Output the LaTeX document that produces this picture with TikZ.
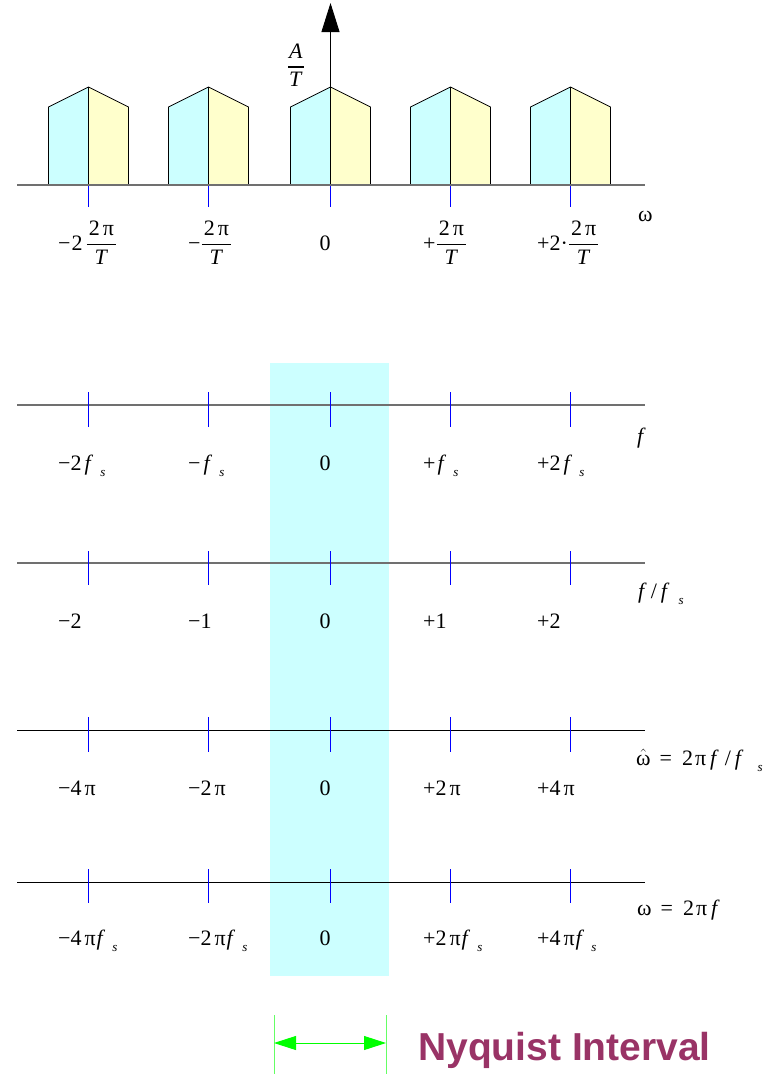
\documentclass[tikz,border=0pt]{standalone}
\usepackage{fontspec}
\setmainfont{Liberation Serif}
\newfontfamily\nyqfont{Liberation Sans}
\usetikzlibrary{arrows.meta}
\definecolor{cyanfill}{RGB}{204,255,255}
\definecolor{yellowfill}{RGB}{255,255,204}
\definecolor{nyqcolor}{RGB}{153,51,102}
\definecolor{axgray}{RGB}{112,112,112}
\definecolor{tickblue}{RGB}{0,0,255}
\definecolor{nyqgreen}{RGB}{0,255,0}
\definecolor{nyqline}{RGB}{100,255,100}
\newcommand\fsubk[1]{\textit{f}\kern#1\raisebox{-6pt}{\fontsize{13}{13}\selectfont\textit{s}}}
\newcommand\fsub{\fsubk{7pt}}
\newcommand\mfr[2]{${\displaystyle{\hbox{#1}\above 1.2pt\hbox{#2}}}$}
\newcommand\twopi{\kern2pt 2\kern3pt π\kern2pt}
\newcommand\omh{$\hat{\hbox{ω}}$}
\tikzset{
  lbl/.style={anchor=base west, inner sep=0pt, font=\fontsize{22}{26}\selectfont},
  zlbl/.style={anchor=base, inner sep=0pt, font=\fontsize{22}{26}\selectfont},
  axtick/.style={draw=tickblue, line width=1pt},
  grayaxis/.style={draw=axgray, line width=1.3pt},
  blackaxis/.style={draw=black, line width=1pt},
  blockline/.style={draw=black, line width=0.8pt},
}
\begin{document}
\begin{tikzpicture}[x=1pt,y=-1pt]
\useasboundingbox (0,0) rectangle (770,1074);
% Nyquist band
\fill[cyanfill] (270,363) rectangle (389,976);
% top spectrum blocks
\foreach \c in {88.5,208.5,330.5,450.5,570.5}{
  \fill[cyanfill] (\c-40,185) -- (\c-40,107) -- (\c,87) -- (\c,185) -- cycle;
  \fill[yellowfill] (\c,185) -- (\c,87) -- (\c+40,107) -- (\c+40,185) -- cycle;
  \draw[blockline] (\c-40,185) -- (\c-40,107) -- (\c,87) -- (\c+40,107) -- (\c+40,185);
  \draw[blockline] (\c,87) -- (\c,185);
}
\draw[grayaxis] (17,185) -- (645,185);
\foreach \c in {88.5,208.5,330.5,450.5,570.5}{ \draw[axtick] (\c,186) -- (\c,207); }
\coordinate (apex) at (330.5,87);
\coordinate (tip) at (330.5,3);
\draw[line width=0.9pt, -{Triangle[length=29pt,width=18pt]}] (apex) -- (tip);
\node[anchor=center, inner sep=0pt, font=\fontsize{22}{26}\selectfont] (AT) at (296,65) {\mfr{\kern1pt\textit{A}\kern1pt}{\textit{T}}};
\node[lbl] (t1) at (58,250) {−\kern1pt2\kern3pt\mfr{\twopi}{\textit{T}}};
\node[lbl] (t2) at (188,250) {−\mfr{\twopi}{\textit{T}}};
\node[zlbl] (t3) at (325,250) {0};
\node[lbl] (t4) at (423,250) {+\mfr{\twopi}{\textit{T}}};
\node[lbl] (t5) at (537,250) {+2·\mfr{\twopi}{\textit{T}}};
\node[lbl] (tw) at (638,221) {ω};
% f axis
\draw[grayaxis] (17,405) -- (645,405);
\foreach \c in {88.5,208.5,330.5,450.5,570.5}{ \draw[axtick] (\c,392) -- (\c,427); }
\node[lbl] (f1) at (58,470) {−2\kern3pt\fsub};
\node[lbl] (f2) at (188,470) {−\kern3pt\fsub};
\node[zlbl] (f3) at (325,470) {0};
\node[lbl] (f4) at (423,470) {+\kern2pt\fsub};
\node[lbl] (f5) at (537,470) {+2\kern3pt\fsub};
\node[lbl] (fl) at (637,443) {\textit{f}};
% f/fs axis
\draw[grayaxis] (17,563) -- (645,563);
\foreach \c in {88.5,208.5,330.5,450.5,570.5}{ \draw[axtick] (\c,551) -- (\c,585); }
\node[lbl] (g1) at (58,628) {−2};
\node[lbl] (g2) at (188,628) {−1};
\node[zlbl] (g3) at (325,628) {0};
\node[lbl] (g4) at (423,628) {+1};
\node[lbl] (g5) at (537,628) {+2};
\node[lbl] (gl) at (638,598) {\textit{f}\kern4pt/\kern4pt\fsubk{9pt}};
% omega hat axis
\draw[blackaxis] (17,730) -- (645,730);
\foreach \c in {88.5,208.5,330.5,450.5,570.5}{ \draw[axtick] (\c,717) -- (\c,752); }
\node[lbl] (h1) at (58,795) {−4\kern3pt π};
\node[lbl] (h2) at (188,795) {−2\kern3pt π};
\node[zlbl] (h3) at (325,795) {0};
\node[lbl] (h4) at (423,795) {+2\kern3pt π};
\node[lbl] (h5) at (537,795) {+4\kern3pt π};
\node[lbl] (hl) at (636,765) {\omh\kern9pt=\kern10pt2\kern2pt π\kern4pt\textit{f}\kern6pt/\kern4pt\fsubk{14pt}};
% omega axis
\draw[blackaxis] (17,882) -- (645,882);
\foreach \c in {88.5,208.5,330.5,450.5,570.5}{ \draw[axtick] (\c,869) -- (\c,903); }
\node[lbl] (w1) at (58,945) {−4\kern3pt π\kern1pt\fsub};
\node[lbl] (w2) at (188,945) {−2\kern3pt π\kern1pt\fsub};
\node[zlbl] (w3) at (325,945) {0};
\node[lbl] (w4) at (423,945) {+2\kern3pt π\kern1pt\fsub};
\node[lbl] (w5) at (537,945) {+4\kern3pt π\kern1pt\fsub};
\node[lbl] (wl) at (637,915) {ω\kern9pt=\kern10pt2\kern2pt π\kern4pt\textit{f}};
% Nyquist interval
\coordinate (nlt) at (274,1015);
\coordinate (nlb) at (274,1074);
\coordinate (nrt) at (386,1015);
\coordinate (nrb) at (386,1074);
\coordinate (nl) at (274,1043);
\coordinate (nr) at (386,1043);
\draw[nyqline, line width=1pt] (nlt) -- (nlb);
\draw[nyqline, line width=1pt] (nrt) -- (nrb);
\draw[nyqgreen, line width=0.9pt, {Triangle[length=22pt,width=14pt]}-{Triangle[length=22pt,width=14pt]}] (nl) -- (nr);
\node[anchor=base west, inner sep=0pt, text=nyqcolor, font=\nyqfont\bfseries\fontsize{39}{44}\selectfont] (nyq) at (418,1060) {Nyquist Interval};
\end{tikzpicture}
\end{document}
